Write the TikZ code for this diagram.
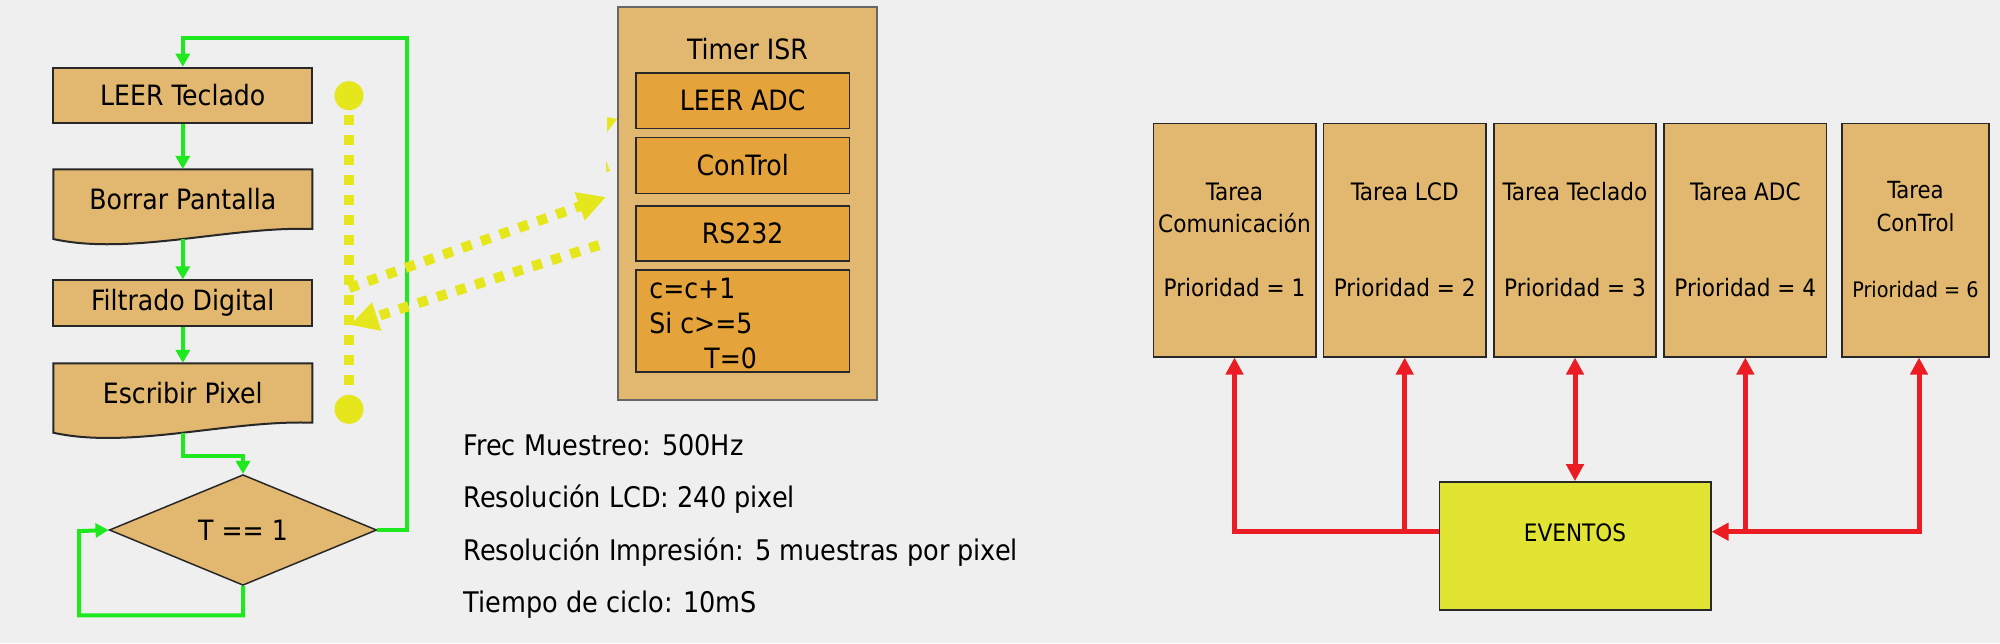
\documentclass[tikz,border=0pt]{standalone}
\usepackage{fontspec}
\setmainfont{DejaVu Sans Condensed}
\usetikzlibrary{arrows.meta,shapes.geometric}
\definecolor{BackClr}{RGB}{239,239,239}
\definecolor{BoxClr}{RGB}{226,184,112}
\definecolor{IsrClr}{RGB}{229,163,60}
\definecolor{FlowClr}{RGB}{30,232,30}
\definecolor{DotClr}{RGB}{230,230,28}
\definecolor{EvClr}{RGB}{226,228,52}
\definecolor{LinkClr}{RGB}{235,28,36}
\definecolor{EdgeClr}{RGB}{40,40,40}

\tikzset{
  flowbox/.style={draw=EdgeClr,line width=1pt,fill=BoxClr,minimum width=129.5pt,inner sep=0pt,font=\fontsize{14}{17}\selectfont},
  flowtext/.style={minimum width=129.5pt,inner sep=0pt,font=\fontsize{14}{17}\selectfont},
  flowarrow/.style={draw=FlowClr,line width=2pt,-{Triangle[length=6.5pt,width=7pt]}},
  dotend/.style={circle,fill=DotClr,minimum size=14.5pt,inner sep=0pt},
  dotline/.style={draw=DotClr,line width=5pt,dash pattern=on 5pt off 5pt},
  dotarrow/.style={dotline,-{Triangle[length=14pt,width=14pt]}},
  isrbox/.style={draw=EdgeClr,line width=0.8pt,fill=IsrClr,minimum width=106.65pt,inner sep=0pt,font=\fontsize{14}{17.5}\selectfont},
  isrtext/.style={inner sep=0pt,font=\fontsize{14}{17.5}\selectfont},
  note/.style={anchor=base west,inner sep=0pt,font=\fontsize{14.2}{17}\selectfont},
  taskbox/.style={draw=EdgeClr,line width=0.8pt,fill=BoxClr,minimum width=81.2pt,minimum height=116.7pt,inner sep=0pt,align=center,font=\fontsize{12}{16}\selectfont},
  linkarrow/.style={draw=LinkClr,line width=2.5pt,>={Triangle[length=8.5pt,width=8.5pt]}}
}

\begin{document}
\begin{tikzpicture}[x=0.5pt,y=-0.5pt]
\fill[BackClr] (0,0) rectangle (2000,643);

% lazo principal
\node[flowbox,minimum height=27.8pt] (leer) at (182.8,95.5) {LEER Teclado};
\filldraw[draw=EdgeClr,line width=1pt,fill=BoxClr] (53.3,169.3) -- (312.3,169.3) -- (312.3,229)
  .. controls (230,226) and (130,256) .. (53.3,239) -- cycle;
\node[flowtext,minimum height=29.85pt] (bor) at (182.8,199.2) {Borrar Pantalla};
\node[flowbox,minimum height=22.85pt] (fil) at (182.8,303.2) {Filtrado Digital};
\filldraw[draw=EdgeClr,line width=1pt,fill=BoxClr] (53.3,363.3) -- (312.3,363.3) -- (312.3,422.7)
  .. controls (230,419.7) and (130,449.7) .. (53.3,432.7) -- cycle;
\node[flowtext,minimum height=29.7pt] (esc) at (182.8,393) {Escribir Pixel};
\node[flowbox,diamond,line width=0.75pt,minimum width=133.7pt,minimum height=55.35pt] (cond) at (243,530) {T == 1};

\draw[flowarrow] (leer) -- (bor);
\draw[flowarrow] ([yshift=-5pt]bor.south) -- (fil);
\draw[flowarrow] (fil) -- (esc);
\draw[flowarrow] ([yshift=-5pt]esc.south) -- ++(0,23.3) -| (cond.north);
\draw[flowarrow] (cond.east) -| ++(30,-491.7) -| (leer.north);
\draw[flowarrow] (cond.south) -- ++(0,29.3) -| ++(-164,-84.3) -- (cond.west);

% interrupcion
\node[dotend] (dtop) at (349,95.7) {};
\node[dotend] (dbot) at (349,409.3) {};
\draw[dotline,dash phase=7.6pt] (dtop) -- (dbot);

\coordinate (A1) at (349,288);
\coordinate (A2) at (606,197);
\coordinate (B1) at (599,245);
\coordinate (B2) at (350,325);
\draw[dotarrow] (A1) -- (A2);
\draw[dotarrow] (B1) -- (B2);
\fill[DotClr] (607,117) -- (617,119) -- (607,132) -- cycle;
\fill[DotClr] (606,161) -- (610,171) -- (606.5,172) -- cycle;

\node[draw=black!60,line width=0.8pt,fill=BoxClr,minimum width=129.5pt,minimum height=196.5pt,inner sep=0pt] (isr) at (747.5,203.5) {};
\node[isrtext,anchor=base] (isrname) at (747.5,59) {Timer ISR};
\node[isrbox,minimum height=27.8pt] (adc) at (742.7,100.5) {LEER ADC};
\node[isrbox,minimum height=28pt] (ctl) at (742.7,165.3) {ConTrol};
\node[isrbox,minimum height=27.65pt] (rs) at (742.7,233.35) {RS232};
\node[isrbox,minimum height=51pt] (cnt) at (742.7,321) {};
\node[isrtext,anchor=north west,align=left] (cnttxt) at (649,277.3) {c=c+1\\Si c>=5\\\hspace*{27.5pt}T=0};

\node[note] (frec) at (463.3,455) {Frec Muestreo: 500Hz};
\node[note] (reslcd) at (463.3,507.5) {Resolución LCD: 240 pixel};
\node[note] (resimp) at (463.3,560) {Resolución Impresión: 5 muestras por pixel};
\node[note] (tciclo) at (463.3,612.5) {Tiempo de ciclo: 10mS};

% tareas
\node[taskbox] (t1) at (1234.5,240) {Tarea\\Comunicación\\~\\Prioridad = 1};
\node[taskbox] (t2) at (1404.7,240) {Tarea LCD\\~\\~\\Prioridad = 2};
\node[taskbox] (t3) at (1575,240) {Tarea Teclado\\~\\~\\Prioridad = 3};
\node[taskbox] (t4) at (1745.3,240) {Tarea ADC\\~\\~\\Prioridad = 4};
\node[taskbox,minimum width=73.5pt,font=\fontsize{11.8}{16.5}\selectfont] (t5) at (1915.5,240) {Tarea\\ConTrol\\[16.5pt]{\fontsize{10.7}{13}\selectfont Prioridad = 6}};

\node[draw=EdgeClr,line width=0.8pt,fill=EvClr,minimum width=135.7pt,minimum height=64pt,inner sep=0pt,font=\fontsize{12}{16}\selectfont] (ev) at (1575,546) {\raisebox{13pt}{EVENTOS}};
\coordinate (evl) at ([yshift=7.15pt]ev.west);
\coordinate (evr) at ([yshift=7.15pt]ev.east);

\draw[linkarrow,->] (evl) -| (t1.south);
\draw[linkarrow,->] (t2.south |- evl) -- (t2.south);
\draw[linkarrow,<->] (ev.north) -- (t3.south);
\draw[linkarrow,->] (t4.south |- evr) -- (t4.south);
\draw[linkarrow,<->] (evr) -| ([xshift=1.75pt]t5.south);

\end{tikzpicture}
\end{document}
